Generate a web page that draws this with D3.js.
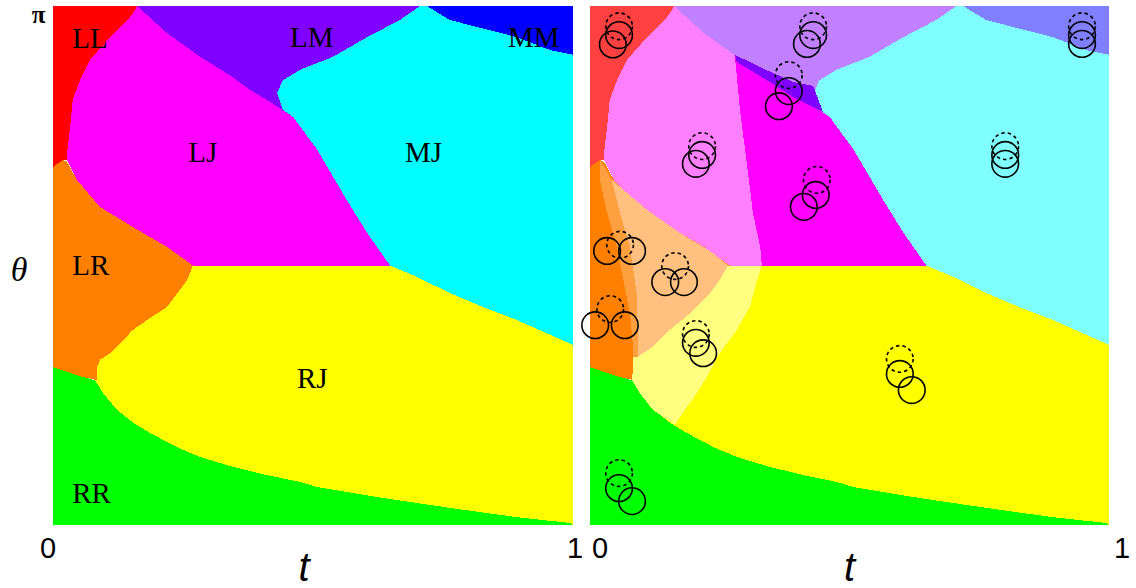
<!DOCTYPE html>
<html>
<head>
<meta charset="utf-8">
<script src="https://cdn.jsdelivr.net/npm/d3@7"></script>
<style>
  html, body { margin: 0; padding: 0; background: #fff; }
  svg { display: block; }
  .region { shape-rendering: crispEdges; }
</style>
</head>
<body>
<svg id="chart" width="1136" height="588"></svg>
<script>
// Phase regions in the (t, theta) plane; points are [t, theta/pi].
const regionRJ = [[0.269,0.5],[0.648,0.5],[0.700,0.478],[0.763,0.447],[0.827,0.420],[0.892,0.395],[1,0.347],[1,0],
  [0.994,0.004],[0.892,0.015],[0.763,0.033],[0.635,0.052],[0.508,0.073],[0.475,0.083],[0.412,0.096],[0.346,0.112],
  [0.283,0.131],[0.238,0.150],[0.187,0.177],[0.154,0.197],[0.123,0.222],[0.096,0.254],[0.081,0.279],[0.085,0.279],
  [0.085,0.304],[0.090,0.318],[0.110,0.331],[0.154,0.376],[0.181,0.395],[0.219,0.420],[0.244,0.453],[0.258,0.472]];
const regionRR = [[0,0.304],[0.058,0.285],[0.081,0.279],[0.096,0.254],[0.123,0.222],[0.154,0.197],[0.187,0.177],
  [0.238,0.150],[0.283,0.131],[0.346,0.112],[0.412,0.096],[0.475,0.083],[0.508,0.073],[0.635,0.052],[0.763,0.033],
  [0.892,0.015],[0.994,0.004],[1,0],[0,0]];
const regionLR = [[0,0.690],[0.019,0.703],[0.027,0.700],[0.046,0.665],[0.090,0.613],[0.154,0.574],[0.219,0.536],
  [0.269,0.5],[0.258,0.472],[0.244,0.453],[0.219,0.420],[0.181,0.395],[0.154,0.376],[0.110,0.331],[0.090,0.318],
  [0.085,0.304],[0.085,0.279],[0.058,0.285],[0,0.304]];
const regionLL = [[0,1],[0.162,1],[0.158,0.992],[0.144,0.973],[0.110,0.940],[0.071,0.896],[0.052,0.857],[0.038,0.819],
  [0.033,0.767],[0.027,0.717],[0.027,0.703],[0.019,0.703],[0,0.690]];
const regionLM = [[0.162,1],[0.706,1],[0.667,0.973],[0.604,0.940],[0.538,0.902],[0.475,0.877],[0.442,0.857],
  [0.431,0.832],[0.442,0.800],[0.462,0.786],[0.412,0.819],[0.379,0.838],[0.346,0.863],[0.283,0.902],[0.219,0.948]];
const regionMM = [[0.719,1],[1,1],[1,0.906],[0.956,0.915],[0.892,0.940],[0.763,0.973]];
const regionMJ = [[0.706,1],[0.719,1],[0.763,0.973],[0.892,0.940],[0.956,0.915],[1,0.906],[1,0.347],[0.892,0.395],
  [0.827,0.420],[0.763,0.447],[0.700,0.478],[0.648,0.5],[0.604,0.563],[0.565,0.626],[0.508,0.723],[0.462,0.786],
  [0.442,0.800],[0.431,0.832],[0.442,0.857],[0.475,0.877],[0.538,0.902],[0.604,0.940],[0.667,0.973]];
const regionLJ = [[0.027,0.703],[0.027,0.717],[0.033,0.767],[0.038,0.819],[0.052,0.857],[0.071,0.896],[0.110,0.940],
  [0.144,0.973],[0.162,1],[0.219,0.948],[0.283,0.902],[0.346,0.863],[0.379,0.838],[0.412,0.819],[0.462,0.786],
  [0.508,0.723],[0.565,0.626],[0.604,0.563],[0.648,0.5],[0.269,0.5],[0.219,0.536],[0.154,0.574],[0.090,0.613],
  [0.046,0.665]];

// Sub-regions that only appear in the second diagram.
const regionLJcore = [[0.279,0.905],[0.289,0.800],[0.303,0.690],[0.314,0.601],[0.328,0.536],[0.331,0.5],[0.648,0.5],
  [0.604,0.563],[0.565,0.626],[0.508,0.723],[0.462,0.786],[0.412,0.819],[0.379,0.838],[0.346,0.863]];
const regionLMstrip = [[0.279,0.906],[0.341,0.876],[0.391,0.854],[0.430,0.846],[0.449,0.796],[0.391,0.825],
  [0.341,0.857],[0.283,0.892]];
const regionLRmid = [[0.019,0.703],[0.025,0.696],[0.042,0.665],[0.058,0.601],[0.077,0.536],[0.091,0.439],[0.092,0.324],
  [0.083,0.324],[0.083,0.343],[0.077,0.408],[0.064,0.472],[0.052,0.536],[0.033,0.601],[0.019,0.665]];
const regionLRpale = [[0.042,0.665],[0.110,0.607],[0.173,0.563],[0.237,0.524],[0.266,0.5],[0.250,0.472],[0.225,0.439],
  [0.193,0.408],[0.154,0.376],[0.121,0.343],[0.092,0.324],[0.091,0.439],[0.077,0.536],[0.058,0.601]];
const regionRJpale = [[0.266,0.5],[0.331,0.5],[0.322,0.472],[0.308,0.420],[0.283,0.376],[0.250,0.331],[0.225,0.285],
  [0.200,0.245],[0.173,0.208],[0.164,0.193],[0.121,0.222],[0.096,0.254],[0.081,0.279],[0.083,0.304],[0.083,0.324],
  [0.092,0.324],[0.121,0.343],[0.154,0.376],[0.193,0.408],[0.225,0.439],[0.250,0.472]];

// Region names and where each name sits, [t, theta/pi] of the text start.
const regionNames = ["LL","LM","MM","LJ","MJ","LR","RJ","RR"];
const namePoints = [[0.037,0.919],[0.456,0.921],[0.875,0.921],[0.260,0.699],[0.677,0.699],[0.037,0.482],[0.469,0.264],[0.037,0.042]];

// Circle glyphs: dashed circle centre and two solid circle centres, [t, theta/pi].
const glyphDashed = [[0.056,0.961],[0.430,0.961],[0.383,0.867],[0.216,0.730],[0.437,0.665],[0.948,0.961],[0.800,0.730],
  [0.058,0.540],[0.164,0.499],[0.039,0.416],[0.204,0.368],[0.597,0.320],[0.056,0.100]];
const glyphSolidA = [[0.056,0.944],[0.430,0.944],[0.383,0.836],[0.216,0.713],[0.435,0.636],[0.948,0.944],[0.800,0.713],
  [0.033,0.528],[0.145,0.468],[0.010,0.385],[0.204,0.351],[0.597,0.291],[0.056,0.071]];
const glyphSolidB = [[0.044,0.926],[0.418,0.927],[0.364,0.807],[0.204,0.696],[0.412,0.613],[0.948,0.927],[0.800,0.696],
  [0.081,0.528],[0.181,0.468],[0.067,0.385],[0.218,0.331],[0.620,0.260],[0.081,0.046]];

const tTickLabels = ["0","1"];
const thetaTopLabel = "π";

const svg = d3.select("#chart");

function makePanel(x0, x1) {
  return {
    x: d3.scaleLinear().domain([0, 1]).range([x0, x1]),
    y: d3.scaleLinear().domain([0, 1]).range([525, 6])
  };
}
const left = makePanel(53, 573);
const right = makePanel(590, 1109);

function drawRegions(g, p, list) {
  const line = d3.line().x(d => p.x(d[0])).y(d => p.y(d[1])).curve(d3.curveLinearClosed);
  g.selectAll(null).data(list).join("path")
    .attr("class", "region")
    .attr("d", d => line(d.pts))
    .attr("fill", d => d.color);
}

// Left diagram
const gL = svg.append("g");
drawRegions(gL, left, [
  {pts: regionRJ, color: "#ffff00"},
  {pts: regionRR, color: "#00ff00"},
  {pts: regionLR, color: "#ff8000"},
  {pts: regionLJ, color: "#ff00ff"},
  {pts: regionMJ, color: "#00ffff"},
  {pts: regionLM, color: "#8000ff"},
  {pts: regionMM, color: "#0000ff"},
  {pts: regionLL, color: "#ff0000"}
]);

gL.selectAll("text.name").data(regionNames).join("text")
  .attr("class", "name")
  .attr("x", (d, i) => left.x(namePoints[i][0]))
  .attr("y", (d, i) => left.y(namePoints[i][1]))
  .attr("font-family", "'Liberation Serif', 'Times New Roman', serif")
  .attr("font-size", 29)
  .attr("fill", "#000")
  .text(d => d);

// Right diagram
const gR = svg.append("g");
drawRegions(gR, right, [
  {pts: regionRJ, color: "#ffff00"},
  {pts: regionRR, color: "#00ff00"},
  {pts: regionLR, color: "#ff8000"},
  {pts: regionLJ, color: "#ff80ff"},
  {pts: regionLJcore, color: "#ff00ff"},
  {pts: regionMJ, color: "#80ffff"},
  {pts: regionLM, color: "#c080ff"},
  {pts: regionLMstrip, color: "#8000ff"},
  {pts: regionMM, color: "#8080ff"},
  {pts: regionLL, color: "#ff4040"},
  {pts: regionLRmid, color: "#ffa040"},
  {pts: regionLRpale, color: "#ffc080"},
  {pts: regionRJpale, color: "#ffff80"}
]);

const rPx = right.x(0.0257) - right.x(0);
const circles = [];
glyphDashed.forEach((d, i) => {
  circles.push({c: d, dashed: true});
  circles.push({c: glyphSolidA[i], dashed: false});
  circles.push({c: glyphSolidB[i], dashed: false});
});
gR.selectAll("circle").data(circles).join("circle")
  .attr("cx", d => right.x(d.c[0]))
  .attr("cy", d => right.y(d.c[1]))
  .attr("r", rPx)
  .attr("fill", "none")
  .attr("stroke", "#000")
  .attr("stroke-width", 1.6)
  .attr("stroke-dasharray", d => d.dashed ? "3.5,3" : null);

// Axis annotations
const sans = "'Liberation Sans', Arial, Helvetica, sans-serif";
const tickStyle = (sel) => sel.attr("font-family", sans).attr("font-size", 29).attr("fill", "#000").attr("text-anchor", "middle");

svg.append("text").call(tickStyle).attr("x", left.x(0) - 5).attr("y", 558).text(tTickLabels[0]);
svg.append("text").call(tickStyle).attr("x", left.x(1) + 2).attr("y", 558).text(tTickLabels[1]);
svg.append("text").call(tickStyle).attr("x", right.x(0) + 10).attr("y", 558).text(tTickLabels[0]);
svg.append("text").call(tickStyle).attr("x", right.x(1) + 13).attr("y", 558).text(tTickLabels[1]);

[left, right].forEach((p, i) => {
  svg.append("text")
    .attr("x", (p.x(0) + p.x(1)) / 2 - (i === 0 ? 9 : 0))
    .attr("y", 581)
    .attr("font-family", sans)
    .attr("font-style", "italic")
    .attr("font-size", 40)
    .attr("text-anchor", "middle")
    .text("t");
});

svg.append("text")
  .attr("x", 38.5).attr("y", 22.5)
  .attr("font-family", "'Liberation Serif', 'Times New Roman', serif")
  .attr("font-size", 25)
  .attr("font-weight", "bold")
  .attr("text-anchor", "middle")
  .text(thetaTopLabel);

svg.append("text")
  .attr("x", 19).attr("y", 281)
  .attr("font-family", "'Liberation Serif', 'Times New Roman', serif")
  .attr("font-style", "italic")
  .attr("font-size", 34)
  .attr("text-anchor", "middle")
  .text("θ");
</script>
</body>
</html>
